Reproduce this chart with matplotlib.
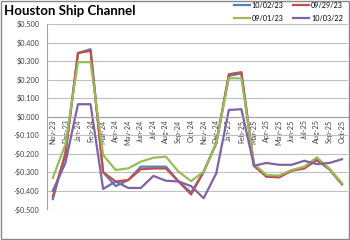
import matplotlib
matplotlib.use("Agg")
import matplotlib.pyplot as plt
from matplotlib.patches import Rectangle
from matplotlib.ticker import FuncFormatter

months = ["Nov-23", "Dec-23", "Jan-24", "Feb-24", "Mar-24", "Apr-24", "May-24", "Jun-24",
          "Jul-24", "Aug-24", "Sep-24", "Oct-24", "Nov-24", "Dec-24", "Jan-25", "Feb-25",
          "Mar-25", "Apr-25", "May-25", "Jun-25", "Jul-25", "Aug-25", "Sep-25", "Oct-25"]

s_100223 = [-0.445, -0.20, 0.343, 0.364, -0.30, -0.375, -0.342, -0.27, -0.27, -0.27, -0.35, -0.41,
            -0.297, -0.144, 0.22, 0.233, -0.265, -0.324, -0.327, -0.29, -0.275, -0.234, -0.284, -0.362]
s_092923 = [-0.43, -0.20, 0.343, 0.355, -0.30, -0.35, -0.342, -0.284, -0.28, -0.28, -0.35, -0.42,
            -0.297, -0.144, 0.229, 0.24, -0.265, -0.324, -0.327, -0.292, -0.28, -0.234, -0.284, -0.366]
s_090123 = [-0.33, -0.15, 0.294, 0.294, -0.207, -0.288, -0.279, -0.243, -0.222, -0.216, -0.297, -0.348,
            -0.297, -0.144, 0.207, 0.207, -0.255, -0.315, -0.318, -0.288, -0.27, -0.22, -0.28, -0.36]
s_100322 = [-0.40, -0.25, 0.067, 0.067, -0.39, -0.35, -0.385, -0.385, -0.32, -0.346, -0.35, -0.375,
            -0.44, -0.306, 0.036, 0.04, -0.265, -0.25, -0.26, -0.26, -0.238, -0.256, -0.25, -0.23]

series = [("10/02/23", s_100223, "#4F81BD"),
          ("09/29/23", s_092923, "#C0504D"),
          ("09/01/23", s_090123, "#9BBB59"),
          ("10/03/22", s_100322, "#8064A2")]

plt.rcParams['font.family'] = ['Lato', 'DejaVu Sans']

fig = plt.figure(figsize=(3.5, 2.4), dpi=100)
ax = fig.add_axes([0.133, 0.128, 0.862, 0.772])

ax.spines['bottom'].set_position(('data', 0))
ax.spines['bottom'].set_color('#A0A0A0')
ax.spines['left'].set_color('#A0A0A0')
ax.spines['top'].set_visible(False)
ax.spines['right'].set_visible(False)

x = list(range(len(months)))
handles = {}
for name, vals, col in series:
    h, = ax.plot(x, vals, color=col, lw=1.6, label=name, solid_joinstyle='round')
    handles[name] = h

ax.set_xlim(-0.5, len(months) - 0.5)
ax.set_ylim(-0.5, 0.5)
ax.set_yticks([i / 10 for i in range(-5, 6)])
ax.yaxis.set_major_formatter(FuncFormatter(lambda v, p: ("-$%.3f" % abs(v)) if v < -1e-9 else "$%.3f" % abs(v)))
ax.grid(axis='y', color='#BFBFBF', lw=0.8)
ax.set_axisbelow(True)
ax.set_xticks(x)
ax.set_xticklabels(months, rotation=90, fontsize=5.2, color='#404040', ha='center', va='top')
ax.tick_params(axis='x', length=0, pad=2)
ax.tick_params(axis='y', length=0, labelsize=5.2, labelcolor='#404040', pad=5)

fig.text(0.01, 0.955, "Houston Ship Channel", fontsize=9.5, fontweight='bold', va='center', ha='left')

order = ["10/02/23", "09/01/23", "09/29/23", "10/03/22"]
fig.legend(handles=[handles[n] for n in order], labels=order, loc='upper right',
           bbox_to_anchor=(343 / 350, 1 - 1.5 / 240), ncol=2,
           fontsize=5.2, frameon=False, handlelength=2.2, handletextpad=0.25,
           columnspacing=1.4, labelspacing=0.85, borderaxespad=0, borderpad=0)

fig.patches.append(Rectangle((0.002, 0.003), 0.995, 0.993, transform=fig.transFigure,
                             fill=False, edgecolor='#888888', lw=1.0))

fig.savefig("out.png", dpi=100)
